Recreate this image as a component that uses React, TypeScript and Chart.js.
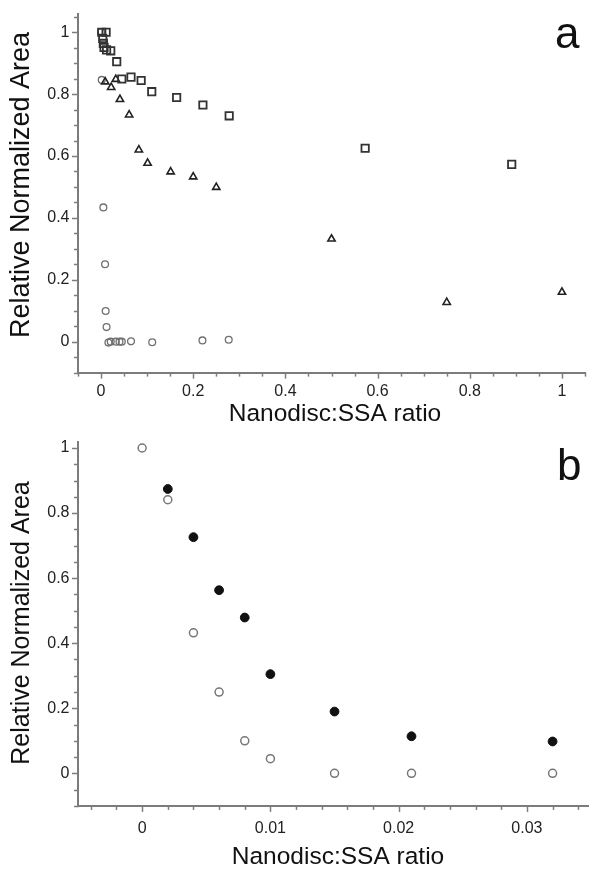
import React, { useEffect, useRef } from 'react';
import { Chart, registerables } from 'chart.js';

Chart.register(...registerables);

const FONT = '"Liberation Sans", Arial, Helvetica, sans-serif';
const AXIS_COLOR = '#7c7c7c';
const TICK_TEXT = '#222222';
const TITLE_TEXT = '#111111';

// ---------- Panel a data ----------
const A_SQUARE_X = [0.0015, 0.011, 0.0037, 0.005, 0.0065, 0.012, 0.021, 0.034, 0.045, 0.065, 0.087, 0.11, 0.164, 0.221, 0.278, 0.573, 0.891];
const A_SQUARE_Y = [1.0, 1.0, 0.98, 0.964, 0.951, 0.943, 0.94, 0.905, 0.849, 0.855, 0.844, 0.808, 0.789, 0.765, 0.73, 0.625, 0.573];

const A_TRIANGLE_X = [0.009, 0.022, 0.032, 0.041, 0.061, 0.082, 0.101, 0.151, 0.2, 0.25, 0.5, 0.75, 1.0];
const A_TRIANGLE_Y = [0.84, 0.822, 0.848, 0.783, 0.733, 0.62, 0.577, 0.549, 0.533, 0.499, 0.332, 0.127, 0.16];

const A_CIRCLE_X = [0, 0.0015, 0.005, 0.0087, 0.01, 0.012, 0.016, 0.021, 0.032, 0.04, 0.045, 0.065, 0.111, 0.22, 0.277];
const A_CIRCLE_Y = [1.0, 0.846, 0.434, 0.25, 0.099, 0.047, -0.003, 0, 0, 0, 0, 0.001, -0.002, 0.004, 0.006];

const A_X_TICKS = [0, 0.2, 0.4, 0.6, 0.8, 1];
const A_X_LABELS = ['0', '0.2', '0.4', '0.6', '0.8', '1'];
const A_Y_TICKS = [0, 0.2, 0.4, 0.6, 0.8, 1];
const A_Y_LABELS = ['0', '0.2', '0.4', '0.6', '0.8', '1'];

// ---------- Panel b data ----------
const B_FILLED_X = [0.002, 0.004, 0.006, 0.008, 0.01, 0.015, 0.021, 0.032];
const B_FILLED_Y = [0.874, 0.726, 0.563, 0.479, 0.305, 0.19, 0.114, 0.098];

const B_OPEN_X = [0, 0.002, 0.004, 0.006, 0.008, 0.01, 0.015, 0.021, 0.032];
const B_OPEN_Y = [1.0, 0.841, 0.432, 0.25, 0.1, 0.045, 0, 0, 0];

const B_X_TICKS = [0, 0.01, 0.02, 0.03];
const B_X_LABELS = ['0', '0.01', '0.02', '0.03'];
const B_Y_TICKS = [0, 0.2, 0.4, 0.6, 0.8, 1];
const B_Y_LABELS = ['0', '0.2', '0.4', '0.6', '0.8', '1'];

const X_TITLE = 'Nanodisc:SSA ratio';
const Y_TITLE = 'Relative Normalized Area';

const zip = (xs: number[], ys: number[]) => xs.map((x, i) => ({ x, y: ys[i] }));

function stepTicks(min: number, max: number, step: number) {
  const out: { value: number }[] = [];
  const k0 = Math.ceil(min / step - 1e-9);
  const k1 = Math.floor(max / step + 1e-9);
  for (let k = k0; k <= k1; k++) out.push({ value: +(k * step).toFixed(6) });
  return out;
}

function labelFor(v: number, majors: number[], labels: string[]) {
  const i = majors.findIndex((m) => Math.abs(m - v) < 1e-9);
  return i >= 0 ? labels[i] : '';
}

const decorPlugin = {
  id: 'decor',
  afterDraw(chart: any, _args: any, opts: any) {
    const ctx = chart.ctx as CanvasRenderingContext2D;
    const { left, bottom } = chart.chartArea;
    const xs = chart.scales.x;
    const ys = chart.scales.y;
    ctx.save();
    ctx.strokeStyle = AXIS_COLOR;
    ctx.lineWidth = 1.5;
    xs.ticks.forEach((t: any) => {
      const p = Math.round(xs.getPixelForValue(t.value)) + 0.5;
      const len = t.label ? 6 : 4;
      ctx.beginPath();
      ctx.moveTo(p, bottom);
      ctx.lineTo(p, bottom + len);
      ctx.stroke();
    });
    ys.ticks.forEach((t: any) => {
      const p = Math.round(ys.getPixelForValue(t.value)) + 0.5;
      const len = t.label ? 6 : 4;
      ctx.beginPath();
      ctx.moveTo(left - len, p);
      ctx.lineTo(left + 1, p);
      ctx.stroke();
    });

    ctx.fillStyle = TITLE_TEXT;
    ctx.textAlign = 'center';
    ctx.textBaseline = 'middle';
    ctx.font = `${opts.xTitle.size}px ${FONT}`;
    ctx.fillText(opts.xTitle.text, opts.xTitle.x, opts.xTitle.y);

    ctx.save();
    ctx.translate(opts.yTitle.x, opts.yTitle.y);
    ctx.rotate(-Math.PI / 2);
    ctx.font = `${opts.yTitle.size}px ${FONT}`;
    ctx.fillText(opts.yTitle.text, 0, 0);
    ctx.restore();

    ctx.textAlign = 'left';
    ctx.textBaseline = 'alphabetic';
    ctx.font = `${opts.letter.size}px ${FONT}`;
    ctx.fillText(opts.letter.text, opts.letter.x, opts.letter.y);
    ctx.restore();
  },
};

function makeScale(
  min: number,
  max: number,
  step: number,
  majors: number[],
  labels: string[],
  padding: number,
  fit: (s: any) => void
) {
  return {
    type: 'linear',
    min,
    max,
    afterBuildTicks: (s: any) => {
      s.ticks = stepTicks(min, max, step);
    },
    ticks: {
      autoSkip: false,
      maxRotation: 0,
      minRotation: 0,
      padding,
      color: TICK_TEXT,
      font: { family: FONT, size: 16 },
      callback: (v: any) => labelFor(Number(v), majors, labels),
    },
    grid: { display: false, drawTicks: false },
    border: { display: true, color: AXIS_COLOR, width: 2 },
    afterFit: (s: any) => {
      fit(s);
      s.paddingTop = 0;
      s.paddingBottom = 0;
      s.paddingLeft = 0;
      s.paddingRight = 0;
    },
  };
}

const W = 594;
const H = 436;

function PanelA() {
  const ref = useRef<HTMLCanvasElement>(null);
  useEffect(() => {
    if (!ref.current) return;
    const chart = new Chart(ref.current, {
      type: 'scatter',
      data: {
        datasets: [
          {
            label: 'squares',
            data: zip(A_SQUARE_X, A_SQUARE_Y),
            pointStyle: 'rect',
            radius: 5.2,
            borderWidth: 1.8,
            borderColor: '#333333',
            backgroundColor: 'rgba(0,0,0,0)',
          },
          {
            label: 'triangles',
            data: zip(A_TRIANGLE_X, A_TRIANGLE_Y),
            pointStyle: 'triangle',
            radius: 4.2,
            borderWidth: 1.6,
            borderColor: '#222222',
            backgroundColor: 'rgba(0,0,0,0)',
          },
          {
            label: 'circles',
            data: zip(A_CIRCLE_X, A_CIRCLE_Y),
            pointStyle: 'circle',
            radius: 3.4,
            borderWidth: 1.3,
            borderColor: '#707070',
            backgroundColor: 'rgba(0,0,0,0)',
          },
        ],
      },
      options: {
        animation: false,
        responsive: false,
        devicePixelRatio: 1,
        events: [],
        layout: { padding: { top: 13.7, right: 9, left: 0, bottom: 0 } },
        plugins: {
          legend: { display: false },
          tooltip: { enabled: false },
          decor: {
            xTitle: { text: X_TITLE, x: 335, y: 414, size: 24.5 },
            yTitle: { text: Y_TITLE, x: 22, y: 185, size: 27 },
            letter: { text: 'a', x: 555, y: 48, size: 44 },
          },
        } as any,
        scales: {
          x: makeScale(-0.05, 1.05, 0.05, A_X_TICKS, A_X_LABELS, 9.5, (s) => {
            s.height = H - 372.6;
          }),
          y: makeScale(-0.1, 1.06, 0.05, A_Y_TICKS, A_Y_LABELS, 8.5, (s) => {
            s.width = 78;
          }),
        } as any,
      },
      plugins: [decorPlugin as any],
    });
    return () => chart.destroy();
  }, []);
  return <canvas ref={ref} width={W} height={H} style={{ display: 'block', width: W, height: H }} />;
}

function PanelB() {
  const ref = useRef<HTMLCanvasElement>(null);
  useEffect(() => {
    if (!ref.current) return;
    const chart = new Chart(ref.current, {
      type: 'scatter',
      data: {
        datasets: [
          {
            label: 'filled',
            data: zip(B_FILLED_X, B_FILLED_Y),
            pointStyle: 'circle',
            radius: 4.4,
            borderWidth: 1,
            borderColor: '#111111',
            backgroundColor: '#111111',
          },
          {
            label: 'open',
            data: zip(B_OPEN_X, B_OPEN_Y),
            pointStyle: 'circle',
            radius: 4,
            borderWidth: 1.5,
            borderColor: '#777777',
            backgroundColor: 'rgba(0,0,0,0)',
          },
        ],
      },
      options: {
        animation: false,
        responsive: false,
        devicePixelRatio: 1,
        events: [],
        layout: { padding: { top: 4.8, right: 0, left: 0, bottom: 0 } },
        plugins: {
          legend: { display: false },
          tooltip: { enabled: false },
          decor: {
            xTitle: { text: X_TITLE, x: 338, y: 421, size: 24.5 },
            yTitle: { text: Y_TITLE, x: 22, y: 187, size: 25 },
            letter: { text: 'b', x: 557, y: 44, size: 44 },
          },
        } as any,
        scales: {
          x: makeScale(-0.005, 0.0348, 0.002, B_X_TICKS, B_X_LABELS, 13, (s) => {
            s.height = H - 369.9;
          }),
          y: makeScale(-0.1, 1.02, 0.05, B_Y_TICKS, B_Y_LABELS, 8.5, (s) => {
            s.width = 78;
          }),
        } as any,
      },
      plugins: [decorPlugin as any],
    });
    return () => chart.destroy();
  }, []);
  return <canvas ref={ref} width={W} height={H} style={{ display: 'block', width: W, height: H }} />;
}

export default function App() {
  return (
    <div style={{ position: 'absolute', left: 0, top: 0, width: W, height: 2 * H, background: '#ffffff' }}>
      <PanelA />
      <PanelB />
    </div>
  );
}
